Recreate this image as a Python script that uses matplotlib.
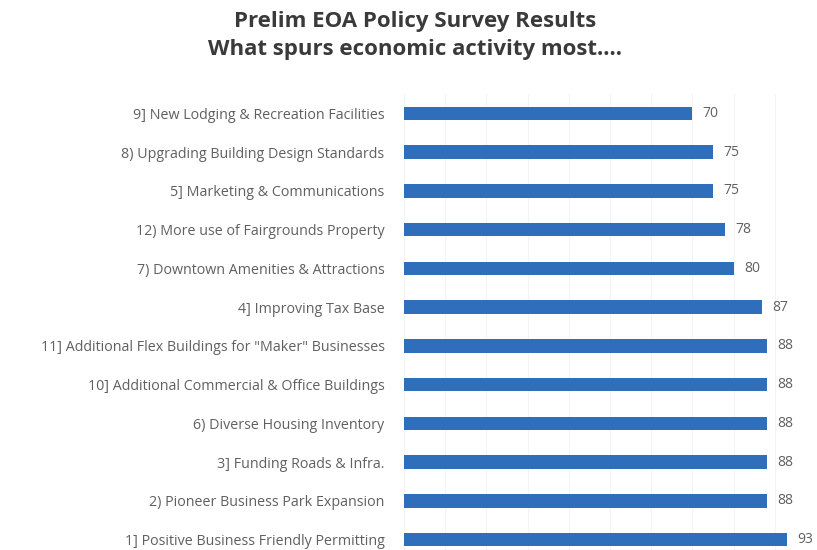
import matplotlib
matplotlib.use("Agg")
import matplotlib.pyplot as plt

categories = [
    "9] New Lodging & Recreation Facilities",
    "8) Upgrading Building Design Standards",
    "5] Marketing & Communications",
    "12) More use of Fairgrounds Property",
    "7) Downtown Amenities & Attractions",
    "4] Improving Tax Base",
    "11] Additional Flex Buildings for \"Maker\" Businesses",
    "10] Additional Commercial & Office Buildings",
    "6) Diverse Housing Inventory",
    "3] Funding Roads & Infra.",
    "2) Pioneer Business Park Expansion",
    "1] Positive Business Friendly Permitting",
]
values = [70, 75, 75, 78, 80, 87, 88, 88, 88, 88, 88, 93]

W, H = 817, 550
fig = plt.figure(figsize=(W / 100, H / 100), dpi=100)
fig.patch.set_facecolor("white")

left = 404 / W
right = 816 / W
top = 1 - 94 / H
bottom = 1 - 559 / H
ax = fig.add_axes([left, bottom, right - left, top - bottom])

n = len(categories)
ypos = list(range(n))
ax.barh(ypos, values, height=0.35, color="#2F6EBA", zorder=3)
ax.set_ylim(n - 0.5, -0.5)
ax.set_xlim(0, 100)
ax.set_yticks(ypos)
ax.set_yticklabels(categories, fontsize=10.3, color="#606060", family="Open Sans")
ax.tick_params(axis="y", length=0, pad=14)
ax.tick_params(axis="x", length=0, labelbottom=False)
ax.set_xticks(range(0, 100, 10))
ax.grid(axis="x", color="#f4f4f4", linewidth=0.8, zorder=0)
for s in ax.spines.values():
    s.set_visible(False)

for y, v in zip(ypos, values):
    ax.text(v + 2.5, y, str(v), va="center", ha="left", fontsize=10,
            color="#606060", family="Open Sans", clip_on=False)

fig.text(415 / W, 1 - 21 / H, "Prelim EOA Policy Survey Results", ha="center",
         va="center", fontsize=16, fontweight="bold", color="#3a3a3a", family="Open Sans")
fig.text(415 / W, 1 - 50 / H, "What spurs economic activity most....", ha="center",
         va="center", fontsize=16, fontweight="bold", color="#3a3a3a", family="Open Sans")

fig.savefig("out.png", dpi=100, facecolor="white")
